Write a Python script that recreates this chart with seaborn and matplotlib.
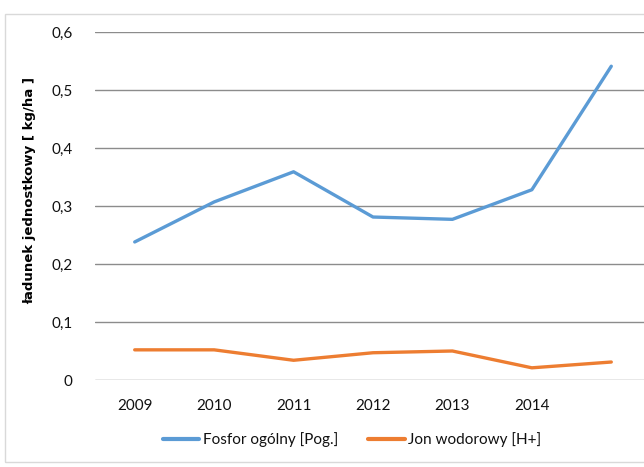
import matplotlib
matplotlib.use("Agg")
import matplotlib.pyplot as plt
from matplotlib.patches import Rectangle
from matplotlib.lines import Line2D
import seaborn as sns
import pandas as pd

# Unit load per year (kg/ha); the last season has no axis label
years = ["2009", "2010", "2011", "2012", "2013", "2014", ""]
fosfor = [0.238, 0.307, 0.359, 0.281, 0.277, 0.328, 0.541]
jon_h = [0.052, 0.052, 0.034, 0.047, 0.050, 0.021, 0.031]
series_names = ["Fosfor ogólny [Pog.]", "Jon wodorowy [H+]"]
colors = ["#5B9BD5", "#ED7D31"]

rows = []
for name, vals in zip(series_names, [fosfor, jon_h]):
    for i, v in enumerate(vals):
        rows.append({"pos": i, "value": v, "series": name})
df = pd.DataFrame(rows)

sns.set_theme(style="white")
plt.rcParams["font.family"] = ["Lato", "DejaVu Sans"]

W, H = 644, 467
fig = plt.figure(figsize=(W / 100, H / 100), dpi=100)
fig.patch.set_facecolor("white")

# chart frame
fig.patches.append(Rectangle((5 / W, 1 - 462 / H), 1.2, (462 - 14) / H,
                             transform=fig.transFigure, fill=False,
                             edgecolor="#D9D9D9", linewidth=1.0))

# plot area runs past the right edge of the figure
left, right = 95, 651
top, bottom = 32, 380
ax = fig.add_axes([left / W, 1 - bottom / H, (right - left) / W, (bottom - top) / H])
ax.set_facecolor("none")

sns.lineplot(data=df, x="pos", y="value", hue="series", palette=colors,
             linewidth=2.4, ax=ax, legend=False, sort=False)

ax.set_xlim(-0.5, len(years) - 0.5)
ax.set_ylim(0, 0.6)
yt = [0, 0.1, 0.2, 0.3, 0.4, 0.5, 0.6]
ax.set_yticks(yt)
ax.set_yticklabels(["0" if t == 0 else f"{t:.1f}".replace(".", ",") for t in yt])
ax.set_xticks(range(len(years)))
ax.set_xticklabels(years)
ax.grid(axis="y", color="#8C8C8C", linewidth=1.0)
ax.grid(axis="x", visible=False)
ax.set_axisbelow(True)
for s in ax.spines.values():
    s.set_visible(False)
ax.tick_params(axis="both", length=0, labelsize=11, colors="#111111")
ax.tick_params(axis="y", pad=16)
ax.tick_params(axis="x", pad=14)
ax.set_xlabel("")
ax.set_ylabel("")

fig.text(30 / W, 1 - 190 / H, "ładunek jednostkowy [ kg/ha ]", rotation=90,
         ha="center", va="center", fontsize=9.5, fontweight="bold",
         family=["DejaVu Sans"], color="#000000")

handles = [Line2D([], [], color=c, linewidth=3) for c in colors]
fig.legend(handles, series_names, loc="center", bbox_to_anchor=(352 / W, 1 - 440 / H),
           ncol=2, frameon=False, fontsize=11, handlelength=2.4,
           handletextpad=0.2, columnspacing=2.0, labelcolor="#111111")

fig.savefig("out.png", dpi=100)
